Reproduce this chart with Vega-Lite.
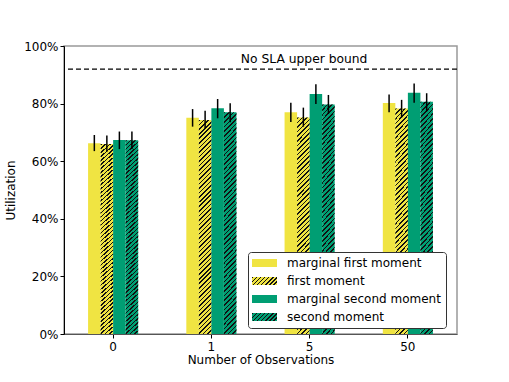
{
  "$schema": "https://vega.github.io/schema/vega-lite/v6.json",
  "width": 393,
  "height": 288,
  "autosize": {"type": "none"},
  "padding": {"left": 64, "top": 46, "right": 52, "bottom": 48},
  "background": "white",
  "config": {
    "font": "DejaVu Sans",
    "view": {"stroke": "#999", "strokeWidth": 1.5},
    "axis": {
      "labelFont": "DejaVu Sans", "titleFont": "DejaVu Sans",
      "labelFontSize": 12, "titleFontSize": 12,
      "labelColor": "black", "titleColor": "black", "titleFontWeight": "normal",
      "tickColor": "black", "domainColor": "black", "grid": false, "tickSize": 4
    },
    "legend": {
      "labelFont": "DejaVu Sans", "labelFontSize": 12, "labelColor": "black", "labelLimit": 400
    }
  },
  "data": {
    "values": [
      {"obs": "0", "series": "marginal first moment", "value": 66.2, "lo": 63.5, "hi": 69.1},
      {"obs": "0", "series": "first moment", "value": 66.0, "lo": 63.3, "hi": 68.9},
      {"obs": "0", "series": "marginal second moment", "value": 67.4, "lo": 64.2, "hi": 70.3},
      {"obs": "0", "series": "second moment", "value": 67.3, "lo": 64.2, "hi": 70.3},
      {"obs": "1", "series": "marginal first moment", "value": 75.1, "lo": 72.0, "hi": 78.1},
      {"obs": "1", "series": "first moment", "value": 74.3, "lo": 71.4, "hi": 77.5},
      {"obs": "1", "series": "marginal second moment", "value": 78.4, "lo": 74.9, "hi": 81.6},
      {"obs": "1", "series": "second moment", "value": 77.0, "lo": 73.5, "hi": 80.1},
      {"obs": "5", "series": "marginal first moment", "value": 77.0, "lo": 73.6, "hi": 80.3},
      {"obs": "5", "series": "first moment", "value": 75.2, "lo": 72.0, "hi": 78.6},
      {"obs": "5", "series": "marginal second moment", "value": 83.3, "lo": 79.9, "hi": 86.7},
      {"obs": "5", "series": "second moment", "value": 79.7, "lo": 76.4, "hi": 83.0},
      {"obs": "50", "series": "marginal first moment", "value": 80.2, "lo": 77.0, "hi": 83.2},
      {"obs": "50", "series": "first moment", "value": 78.3, "lo": 75.2, "hi": 81.3},
      {"obs": "50", "series": "marginal second moment", "value": 83.8, "lo": 80.3, "hi": 87.0},
      {"obs": "50", "series": "second moment", "value": 80.6, "lo": 77.3, "hi": 83.6}
    ]
  },
  "layer": [
    {
      "mark": {"type": "bar"},
      "encoding": {
        "x": {"field": "obs", "type": "nominal", "sort": ["0", "1", "5", "50"],
          "scale": {"paddingInner": 0.49, "paddingOuter": 0.245},
          "axis": {"title": "Number of Observations", "labelAngle": 0, "labelPadding": 3, "titlePadding": 2, "domainColor": "#555"}},
        "xOffset": {"field": "series", "type": "nominal",
          "scale": {"domain": ["marginal first moment", "first moment", "marginal second moment", "second moment"], "paddingInner": 0, "paddingOuter": 0}},
        "y": {"field": "value", "type": "quantitative",
          "scale": {"domain": [0, 100], "nice": false},
          "axis": {"title": "Utilization", "values": [0, 20, 40, 60, 80, 100], "labelExpr": "datum.value + '%'", "titlePadding": 6, "labelPadding": 2}},
        "color": {"field": "series", "type": "nominal",
          "scale": {"domain": ["marginal first moment", "first moment", "marginal second moment", "second moment"],
            "range": ["#f0e442", "#f0e442", "#009e73", "#009e73"]},
          "legend": {
            "title": null, "orient": "none", "legendX": 184, "legendY": 206, "zindex": 1,
            "padding": 5, "rowPadding": 6, "strokeColor": "#333", "fillColor": "white", "cornerRadius": 3,
            "symbolType": "M-1.75,-1H4.5V1H-1.75Z", "symbolSize": 64, "symbolStrokeWidth": 0, "labelOffset": 22
          }}
      }
    },
    {
      "transform": [{"filter": {"field": "series", "oneOf": ["first moment", "second moment"]}}],
      "mark": {"type": "bar", "fill": {"gradient": "linear", "x1": 0, "y1": 0, "x2": 0.0617, "y2": 1.055, "stops": [
        {"offset": 0, "color": "#111"}, {"offset": 0.007, "color": "#111"}, {"offset": 0.007, "color": "transparent"}, {"offset": 0.02, "color": "transparent"},
        {"offset": 0.02, "color": "#111"}, {"offset": 0.027, "color": "#111"}, {"offset": 0.027, "color": "transparent"}, {"offset": 0.04, "color": "transparent"},
        {"offset": 0.04, "color": "#111"}, {"offset": 0.047, "color": "#111"}, {"offset": 0.047, "color": "transparent"}, {"offset": 0.06, "color": "transparent"},
        {"offset": 0.06, "color": "#111"}, {"offset": 0.067, "color": "#111"}, {"offset": 0.067, "color": "transparent"}, {"offset": 0.08, "color": "transparent"},
        {"offset": 0.08, "color": "#111"}, {"offset": 0.087, "color": "#111"}, {"offset": 0.087, "color": "transparent"}, {"offset": 0.1, "color": "transparent"},
        {"offset": 0.1, "color": "#111"}, {"offset": 0.107, "color": "#111"}, {"offset": 0.107, "color": "transparent"}, {"offset": 0.12, "color": "transparent"},
        {"offset": 0.12, "color": "#111"}, {"offset": 0.127, "color": "#111"}, {"offset": 0.127, "color": "transparent"}, {"offset": 0.14, "color": "transparent"},
        {"offset": 0.14, "color": "#111"}, {"offset": 0.147, "color": "#111"}, {"offset": 0.147, "color": "transparent"}, {"offset": 0.16, "color": "transparent"},
        {"offset": 0.16, "color": "#111"}, {"offset": 0.167, "color": "#111"}, {"offset": 0.167, "color": "transparent"}, {"offset": 0.18, "color": "transparent"},
        {"offset": 0.18, "color": "#111"}, {"offset": 0.187, "color": "#111"}, {"offset": 0.187, "color": "transparent"}, {"offset": 0.2, "color": "transparent"},
        {"offset": 0.2, "color": "#111"}, {"offset": 0.207, "color": "#111"}, {"offset": 0.207, "color": "transparent"}, {"offset": 0.22, "color": "transparent"},
        {"offset": 0.22, "color": "#111"}, {"offset": 0.227, "color": "#111"}, {"offset": 0.227, "color": "transparent"}, {"offset": 0.24, "color": "transparent"},
        {"offset": 0.24, "color": "#111"}, {"offset": 0.247, "color": "#111"}, {"offset": 0.247, "color": "transparent"}, {"offset": 0.26, "color": "transparent"},
        {"offset": 0.26, "color": "#111"}, {"offset": 0.267, "color": "#111"}, {"offset": 0.267, "color": "transparent"}, {"offset": 0.28, "color": "transparent"},
        {"offset": 0.28, "color": "#111"}, {"offset": 0.287, "color": "#111"}, {"offset": 0.287, "color": "transparent"}, {"offset": 0.3, "color": "transparent"},
        {"offset": 0.3, "color": "#111"}, {"offset": 0.307, "color": "#111"}, {"offset": 0.307, "color": "transparent"}, {"offset": 0.32, "color": "transparent"},
        {"offset": 0.32, "color": "#111"}, {"offset": 0.327, "color": "#111"}, {"offset": 0.327, "color": "transparent"}, {"offset": 0.34, "color": "transparent"},
        {"offset": 0.34, "color": "#111"}, {"offset": 0.347, "color": "#111"}, {"offset": 0.347, "color": "transparent"}, {"offset": 0.36, "color": "transparent"},
        {"offset": 0.36, "color": "#111"}, {"offset": 0.367, "color": "#111"}, {"offset": 0.367, "color": "transparent"}, {"offset": 0.38, "color": "transparent"},
        {"offset": 0.38, "color": "#111"}, {"offset": 0.387, "color": "#111"}, {"offset": 0.387, "color": "transparent"}, {"offset": 0.4, "color": "transparent"},
        {"offset": 0.4, "color": "#111"}, {"offset": 0.407, "color": "#111"}, {"offset": 0.407, "color": "transparent"}, {"offset": 0.42, "color": "transparent"},
        {"offset": 0.42, "color": "#111"}, {"offset": 0.427, "color": "#111"}, {"offset": 0.427, "color": "transparent"}, {"offset": 0.44, "color": "transparent"},
        {"offset": 0.44, "color": "#111"}, {"offset": 0.447, "color": "#111"}, {"offset": 0.447, "color": "transparent"}, {"offset": 0.46, "color": "transparent"},
        {"offset": 0.46, "color": "#111"}, {"offset": 0.467, "color": "#111"}, {"offset": 0.467, "color": "transparent"}, {"offset": 0.48, "color": "transparent"},
        {"offset": 0.48, "color": "#111"}, {"offset": 0.487, "color": "#111"}, {"offset": 0.487, "color": "transparent"}, {"offset": 0.5, "color": "transparent"},
        {"offset": 0.5, "color": "#111"}, {"offset": 0.507, "color": "#111"}, {"offset": 0.507, "color": "transparent"}, {"offset": 0.52, "color": "transparent"},
        {"offset": 0.52, "color": "#111"}, {"offset": 0.527, "color": "#111"}, {"offset": 0.527, "color": "transparent"}, {"offset": 0.54, "color": "transparent"},
        {"offset": 0.54, "color": "#111"}, {"offset": 0.547, "color": "#111"}, {"offset": 0.547, "color": "transparent"}, {"offset": 0.56, "color": "transparent"},
        {"offset": 0.56, "color": "#111"}, {"offset": 0.567, "color": "#111"}, {"offset": 0.567, "color": "transparent"}, {"offset": 0.58, "color": "transparent"},
        {"offset": 0.58, "color": "#111"}, {"offset": 0.587, "color": "#111"}, {"offset": 0.587, "color": "transparent"}, {"offset": 0.6, "color": "transparent"},
        {"offset": 0.6, "color": "#111"}, {"offset": 0.607, "color": "#111"}, {"offset": 0.607, "color": "transparent"}, {"offset": 0.62, "color": "transparent"},
        {"offset": 0.62, "color": "#111"}, {"offset": 0.627, "color": "#111"}, {"offset": 0.627, "color": "transparent"}, {"offset": 0.64, "color": "transparent"},
        {"offset": 0.64, "color": "#111"}, {"offset": 0.647, "color": "#111"}, {"offset": 0.647, "color": "transparent"}, {"offset": 0.66, "color": "transparent"},
        {"offset": 0.66, "color": "#111"}, {"offset": 0.667, "color": "#111"}, {"offset": 0.667, "color": "transparent"}, {"offset": 0.68, "color": "transparent"},
        {"offset": 0.68, "color": "#111"}, {"offset": 0.687, "color": "#111"}, {"offset": 0.687, "color": "transparent"}, {"offset": 0.7, "color": "transparent"},
        {"offset": 0.7, "color": "#111"}, {"offset": 0.707, "color": "#111"}, {"offset": 0.707, "color": "transparent"}, {"offset": 0.72, "color": "transparent"},
        {"offset": 0.72, "color": "#111"}, {"offset": 0.727, "color": "#111"}, {"offset": 0.727, "color": "transparent"}, {"offset": 0.74, "color": "transparent"},
        {"offset": 0.74, "color": "#111"}, {"offset": 0.747, "color": "#111"}, {"offset": 0.747, "color": "transparent"}, {"offset": 0.76, "color": "transparent"},
        {"offset": 0.76, "color": "#111"}, {"offset": 0.767, "color": "#111"}, {"offset": 0.767, "color": "transparent"}, {"offset": 0.78, "color": "transparent"},
        {"offset": 0.78, "color": "#111"}, {"offset": 0.787, "color": "#111"}, {"offset": 0.787, "color": "transparent"}, {"offset": 0.8, "color": "transparent"},
        {"offset": 0.8, "color": "#111"}, {"offset": 0.807, "color": "#111"}, {"offset": 0.807, "color": "transparent"}, {"offset": 0.82, "color": "transparent"},
        {"offset": 0.82, "color": "#111"}, {"offset": 0.827, "color": "#111"}, {"offset": 0.827, "color": "transparent"}, {"offset": 0.84, "color": "transparent"},
        {"offset": 0.84, "color": "#111"}, {"offset": 0.847, "color": "#111"}, {"offset": 0.847, "color": "transparent"}, {"offset": 0.86, "color": "transparent"},
        {"offset": 0.86, "color": "#111"}, {"offset": 0.867, "color": "#111"}, {"offset": 0.867, "color": "transparent"}, {"offset": 0.88, "color": "transparent"},
        {"offset": 0.88, "color": "#111"}, {"offset": 0.887, "color": "#111"}, {"offset": 0.887, "color": "transparent"}, {"offset": 0.9, "color": "transparent"},
        {"offset": 0.9, "color": "#111"}, {"offset": 0.907, "color": "#111"}, {"offset": 0.907, "color": "transparent"}, {"offset": 0.92, "color": "transparent"},
        {"offset": 0.92, "color": "#111"}, {"offset": 0.927, "color": "#111"}, {"offset": 0.927, "color": "transparent"}, {"offset": 0.94, "color": "transparent"},
        {"offset": 0.94, "color": "#111"}, {"offset": 0.947, "color": "#111"}, {"offset": 0.947, "color": "transparent"}, {"offset": 0.96, "color": "transparent"},
        {"offset": 0.96, "color": "#111"}, {"offset": 0.967, "color": "#111"}, {"offset": 0.967, "color": "transparent"}, {"offset": 0.98, "color": "transparent"},
        {"offset": 0.98, "color": "#111"}, {"offset": 0.987, "color": "#111"}, {"offset": 0.987, "color": "transparent"}, {"offset": 1, "color": "transparent"}
      ]}},
      "encoding": {
        "x": {"field": "obs", "type": "nominal", "sort": ["0", "1", "5", "50"]},
        "xOffset": {"field": "series", "type": "nominal"},
        "y": {"field": "value", "type": "quantitative"}
      }
    },
    {
      "transform": [{"filter": {"field": "series", "oneOf": ["first moment", "second moment"]}}],
      "mark": {"type": "bar", "fill": {"gradient": "linear", "x1": 0, "y1": 0, "x2": 1.197, "y2": 0.383, "stops": [
        {"offset": 0, "color": "#111"}, {"offset": 0.044, "color": "#111"}, {"offset": 0.044, "color": "transparent"}, {"offset": 0.125, "color": "transparent"},
        {"offset": 0.125, "color": "#111"}, {"offset": 0.169, "color": "#111"}, {"offset": 0.169, "color": "transparent"}, {"offset": 0.25, "color": "transparent"},
        {"offset": 0.25, "color": "#111"}, {"offset": 0.294, "color": "#111"}, {"offset": 0.294, "color": "transparent"}, {"offset": 0.375, "color": "transparent"},
        {"offset": 0.375, "color": "#111"}, {"offset": 0.419, "color": "#111"}, {"offset": 0.419, "color": "transparent"}, {"offset": 0.5, "color": "transparent"},
        {"offset": 0.5, "color": "#111"}, {"offset": 0.544, "color": "#111"}, {"offset": 0.544, "color": "transparent"}, {"offset": 0.625, "color": "transparent"},
        {"offset": 0.625, "color": "#111"}, {"offset": 0.669, "color": "#111"}, {"offset": 0.669, "color": "transparent"}, {"offset": 0.75, "color": "transparent"},
        {"offset": 0.75, "color": "#111"}, {"offset": 0.794, "color": "#111"}, {"offset": 0.794, "color": "transparent"}, {"offset": 0.875, "color": "transparent"},
        {"offset": 0.875, "color": "#111"}, {"offset": 0.919, "color": "#111"}, {"offset": 0.919, "color": "transparent"}, {"offset": 1, "color": "transparent"}
      ]}},
      "encoding": {
        "x": {"field": "obs", "type": "nominal", "sort": ["0", "1", "5", "50"]},
        "xOffset": {"field": "series", "type": "nominal"},
        "y": {"field": "value", "type": "quantitative"},
        "y2": {"field": "value"},
        "opacity": {"field": "series", "type": "nominal",
          "scale": {"domain": ["first moment", "second moment"], "range": [1, 1]},
          "legend": {
            "title": null, "orient": "none", "legendX": 184, "legendY": 224, "zindex": 2,
            "padding": 5, "rowPadding": 24, "strokeColor": null, "fillColor": null,
            "symbolType": "M-1.75,-1H4.5V1H-1.75Z", "symbolSize": 64, "symbolStrokeWidth": 0, "labelOffset": 22,
            "labelExpr": "''"
          }}
      }
    },
    {
      "mark": {"type": "rule", "color": "black", "strokeWidth": 1.5},
      "encoding": {
        "x": {"field": "obs", "type": "nominal", "sort": ["0", "1", "5", "50"]},
        "xOffset": {"field": "series", "type": "nominal"},
        "y": {"field": "lo", "type": "quantitative"},
        "y2": {"field": "hi"}
      }
    },
    {
      "data": {"values": [{"bound": 92, "label": "No SLA upper bound"}]},
      "mark": {"type": "rule", "color": "black", "strokeWidth": 1.3, "strokeDash": [5, 3]},
      "encoding": {"y": {"field": "bound", "type": "quantitative"}}
    },
    {
      "data": {"values": [{"bound": 92, "label": "No SLA upper bound", "obs": "5"}]},
      "mark": {"type": "text", "fontSize": 12.3, "font": "DejaVu Sans", "color": "black", "baseline": "bottom", "dy": -3, "dx": -5.5},
      "encoding": {
        "x": {"field": "obs", "type": "nominal"},
        "y": {"field": "bound", "type": "quantitative"},
        "text": {"field": "label"}
      }
    }
  ]
}
